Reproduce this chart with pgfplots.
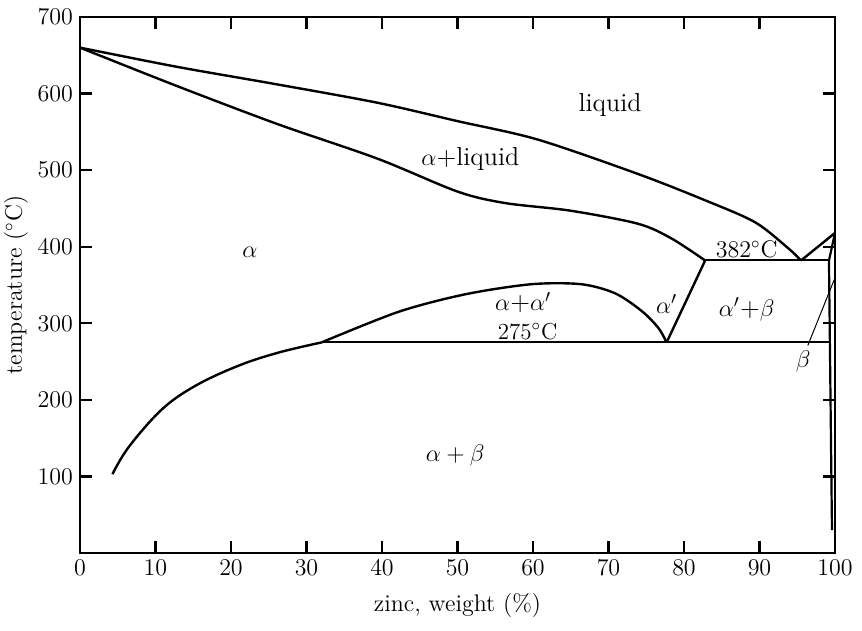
\documentclass[border=0pt]{standalone}
\usepackage{pgfplots}
\pgfplotsset{compat=1.18}
\usetikzlibrary{calc}
\begin{document}
\begin{tikzpicture}
\begin{axis}[
  name=ax,
  scale only axis,
  width=377.5pt, height=268pt,
  xmin=0, xmax=100, ymin=0, ymax=700,
  xtick={0,10,...,100},
  ytick={100,200,...,700},
  tick align=inside,
  major tick length=6pt,
  axis line style={line width=1.2pt},
  every tick/.style={line width=1.1pt, black},
  tick label style={font=\fontsize{11.5}{13}\selectfont},
  xlabel={zinc, weight (\%)},
  ylabel={temperature ($^\circ$C)},
  label style={font=\fontsize{12}{14}\selectfont},
  xlabel style={yshift=-2pt},
  ylabel style={yshift=-2pt},
  clip=false,
]
% liquidus (Al side)
\addplot[black, line width=1.2pt, smooth, tension=0.5] coordinates {
 (0,660) (12.8,635) (26.1,612) (39.4,588) (50.0,564) (60.6,540)
 (73.9,495) (82.7,461) (89.4,432) (93.8,398) (95.5,382)};
% liquidus (Zn side)
\addplot[black, line width=1.2pt] coordinates {(95.5,382) (100,418)};
% solidus
\addplot[black, line width=1.2pt, smooth, tension=0.5] coordinates {
 (0,660) (12.8,610) (26.2,560) (39.4,515) (50.0,472)
 (56.3,457) (65.0,447) (73.9,430) (78.3,411) (82.8,382)};
% eutectic plateau 382
\addplot[black, line width=1pt] coordinates {(82.8,382) (99.2,382)};
% beta solvus
\addplot[black, line width=1.1pt] coordinates {(100,418) (99.2,382) (99.6,30)};
% alpha solvus
\addplot[black, line width=1.2pt, smooth, tension=0.6] coordinates {
 (4.3,103) (6.5,139) (10.9,188) (15.4,219) (21.1,245) (26.4,262) (32,275)};
% miscibility dome
\addplot[black, line width=1.2pt, smooth, tension=0.5] coordinates {
 (32,275) (42.2,315) (51.1,338) (59.8,351) (66.4,351) (70.9,339)
 (74.4,316) (76.6,294) (77.7,275)};
% alpha' boundary
\addplot[black, line width=1.2pt] coordinates {(77.7,275) (82.8,382)};
% monotectoid plateau 275
\addplot[black, line width=1pt] coordinates {(32,275) (99.32,275)};
% beta leader
\addplot[black, line width=0.5pt] coordinates {(96.4,271) (99.9,357)};

\node[font=\fontsize{13}{15}\selectfont] at (axis cs:70.2,585) {liquid};
\node[font=\fontsize{13}{15}\selectfont] at (axis cs:51.7,514) {$\alpha$+liquid};
\node[font=\fontsize{13}{15}\selectfont] at (axis cs:22.5,393) {$\alpha$};
\node[font=\fontsize{13}{15}\selectfont, inner sep=1pt] at (axis cs:58.7,327) {$\alpha$+$\alpha'$};
\node[font=\fontsize{11.5}{13}\selectfont, inner sep=1pt] at (axis cs:59.3,289) {275$^\circ$C};
\node[font=\fontsize{13}{15}\selectfont] at (axis cs:77.7,325) {$\alpha'$};
\node[font=\fontsize{13}{15}\selectfont] at (axis cs:88.3,318) {$\alpha'$+$\beta$};
\node[font=\fontsize{12}{14}\selectfont] at (axis cs:88.3,397) {382$^\circ$C};
\node[font=\fontsize{13}{15}\selectfont] at (axis cs:49.7,127) {$\alpha+\beta$};
\node[font=\fontsize{13}{15}\selectfont] at (axis cs:95.8,250) {$\beta$};
\end{axis}
\pgfresetboundingbox
\path ($(ax.south west)+(-40pt,-39pt)$) rectangle ($(ax.north east)+(13.5pt,8.5pt)$);
\end{tikzpicture}
\end{document}
